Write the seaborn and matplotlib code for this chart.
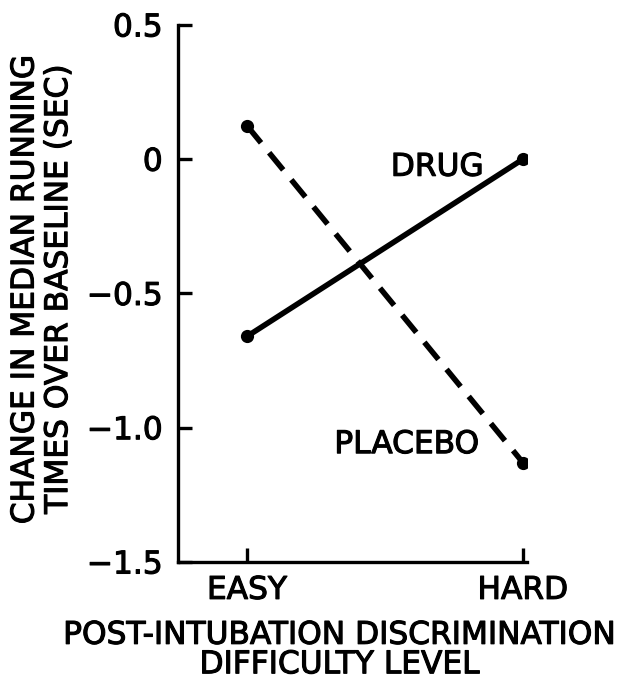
import matplotlib
matplotlib.use('Agg')
import matplotlib.pyplot as plt
import matplotlib.patheffects as pe
import seaborn as sb
import pandas as pd

levels = ['EASY', 'HARD']
drug = [-0.66, 0.0]
placebo = [0.125, -1.13]
yticks = [0.5, 0, -0.5, -1.0, -1.5]
ytick_labels = ['0.5', '0', '\u22120.5', '\u22121.0', '\u22121.5']

sb.set_style('white')
plt.rcParams['font.family'] = ['DejaVu Sans']
plt.rcParams['text.color'] = 'black'
plt.rcParams['axes.labelcolor'] = 'black'

df = pd.DataFrame({'Level': levels * 2,
                   'Change': drug + placebo,
                   'Group': ['DRUG'] * 2 + ['PLACEBO'] * 2})

fig = plt.figure(figsize=(6.37, 6.85), dpi=100)
ax = fig.add_axes([0.2794, 0.1796, 0.548, 0.784])

sb.lineplot(data=df[df['Group'] == 'DRUG'], x='Level', y='Change', color='black',
            linewidth=4, marker='o', markersize=9.5, markeredgewidth=0, ax=ax)
sb.lineplot(data=df[df['Group'] == 'PLACEBO'], x='Level', y='Change', color='black',
            linewidth=4, marker='o', markersize=9.5, markeredgewidth=0, ax=ax)
ax.lines[-1].set_linestyle((0, (4, 2.3)))

# thicken the strokes a bit, like the stencil lettering of the original
thick = [pe.withStroke(linewidth=0.8, foreground='black')]
font = dict(fontsize=22.5, path_effects=thick)
ax.text(0.69, -0.03, 'DRUG', ha='center', va='center', **font)
ax.text(0.58, -1.063, 'PLACEBO', ha='center', va='center', **font)

ax.set_xlim(-0.25, 1.015)
ax.set_ylim(-1.5, 0.5)
ax.set_yticks(yticks)
ax.set_yticklabels(ytick_labels, **font)
ax.set_xticks([0, 1])
ax.set_xticklabels(levels, **font)
ax.tick_params(direction='in', length=10, width=2.4, colors='black',
               left=True, bottom=True)
ax.tick_params(axis='y', pad=11)
ax.tick_params(axis='x', pad=10)

for side in ['top', 'right']:
    ax.spines[side].set_visible(False)
for side in ['left', 'bottom']:
    ax.spines[side].set_linewidth(2.4)
    ax.spines[side].set_color('black')

ax.set_xlabel('POST-INTUBATION DISCRIMINATION\nDIFFICULTY LEVEL',
              linespacing=1.02, **font)
ax.set_ylabel('CHANGE IN MEDIAN RUNNING\nTIMES OVER BASELINE (SEC)',
              linespacing=1.2, **font)
ax.xaxis.set_label_coords(0.464, -0.164)
ax.xaxis.label.set_va('center')
ax.yaxis.set_label_coords(-0.39, 0.508)
ax.yaxis.label.set_va('center')

fig.savefig('out.png', dpi=100)
